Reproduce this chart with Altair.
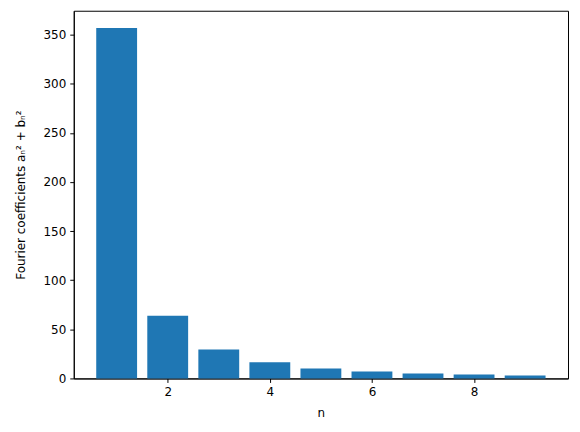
import altair as alt
import pandas as pd

# harmonic index and squared Fourier coefficients
n = [1, 2, 3, 4, 5, 6, 7, 8, 9]
power = [356.6, 63.8, 29.4, 16.5, 10.1, 7.1, 5.1, 4.0, 3.0]

df = pd.DataFrame({"n": n, "power": power})

bars = alt.Chart(df).mark_bar(color="#1f77b4").transform_calculate(
    left="datum.n - 0.4",
    right="datum.n + 0.4"
).encode(
    x=alt.X("left:Q", title="n",
            scale=alt.Scale(domain=[0.16, 9.84], nice=False, zero=False),
            axis=alt.Axis(values=[2, 4, 6, 8], format="d")),
    x2="right:Q",
    y=alt.Y("power:Q", title="Fourier coefficients aₙ² + bₙ²",
            scale=alt.Scale(domain=[0, 374.3], nice=False),
            axis=alt.Axis(values=[0, 50, 100, 150, 200, 250, 300, 350])),
    y2=alt.datum(0),
).properties(
    width=496,
    height=369,
    autosize=alt.AutoSizeParams(type="none"),
    padding={"left": 66, "top": 2, "right": 4, "bottom": 50},
)

chart = bars.configure_view(
    stroke="black", strokeWidth=1
).configure_axis(
    grid=False,
    domainColor="black",
    tickColor="black",
    tickSize=4,
    labelPadding=4,
    labelFont="DejaVu Sans",
    labelFontSize=12,
    labelColor="black",
    titleFont="DejaVu Sans",
    titleFontSize=12,
    titleFontWeight="normal",
    titleColor="black",
).configure_axisY(
    titlePadding=16,
).configure_axisX(
    titlePadding=10,
)

chart.save("out.html", embed_options={"renderer": "svg", "actions": False})
